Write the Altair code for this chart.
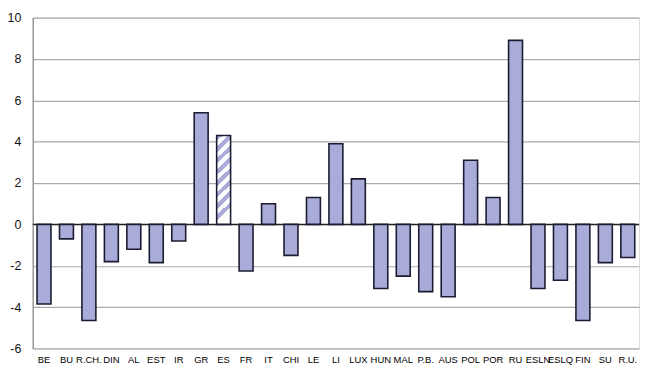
import altair as alt
import pandas as pd

categories = ["BE", "BU", "R.CH.", "DIN", "AL", "EST", "IR", "GR", "ES", "FR", "IT", "CHI", "LE", "LI",
              "LUX", "HUN", "MAL", "P.B.", "AUS", "POL", "POR", "RU", "ESLN", "ESLQ", "FIN", "SU", "R.U."]
values = [-3.85, -0.7, -4.65, -1.8, -1.2, -1.85, -0.8, 5.4, 4.3, -2.25, 1.0, -1.5, 1.3, 3.9,
          2.2, -3.1, -2.5, -3.25, -3.5, 3.1, 1.3, 8.9, -3.1, -2.7, -4.65, -1.85, -1.6]
highlight = "ES"
y_ticks = [-6, -4, -2, 0, 2, 4, 6, 8, 10]

df = pd.DataFrame({"cat": categories, "val": values})

FILL = "#a9abd8"
STROKE = "#1c1c30"

# diagonal stripe gradient for the highlighted bar
n_stripes = 8
stops = []
for i in range(n_stripes):
    a = i / n_stripes
    b = (i + 0.5) / n_stripes
    c = (i + 1) / n_stripes
    stops += [
        alt.GradientStop(color=FILL, offset=a),
        alt.GradientStop(color=FILL, offset=b),
        alt.GradientStop(color="#ffffff", offset=b),
        alt.GradientStop(color="#ffffff", offset=c),
    ]
stripes = alt.LinearGradient(gradient="linear", stops=stops, x1=0, y1=0, x2=0.15, y2=1)

x = alt.X("cat:N", sort=categories, title=None,
          scale=alt.Scale(paddingInner=0.38, paddingOuter=0.19),
          axis=alt.Axis(labelAngle=0, ticks=False, domain=False, labelPadding=6,
                        labelFontSize=9.5, labelFont="Liberation Sans",
                        labelColor="#000", labelFontWeight="normal"))
y = alt.Y("val:Q", title=None,
          scale=alt.Scale(domain=[-6, 10], nice=False),
          axis=alt.Axis(values=y_ticks, ticks=False, domainColor="#999", domainWidth=1.5,
                        gridColor="#aaa", gridWidth=1.2, labelPadding=12,
                        labelExpr="replace(datum.label, '\u2212', '-')",
                        labelFontSize=12.5, labelFont="Liberation Sans", labelColor="#111"))

base = alt.Chart(df)

bars = base.transform_filter(alt.datum.cat != highlight).mark_bar(
    fill=FILL, stroke=STROKE, strokeWidth=1.6
).encode(x=x, y=y)

hbar = base.transform_filter(alt.datum.cat == highlight).mark_bar(
    fill=stripes, stroke=STROKE, strokeWidth=1.6
).encode(x=x, y=y)

zero = alt.Chart(pd.DataFrame({"z": [0]})).mark_rule(color="#222", strokeWidth=1.4).encode(y="z:Q")

chart = alt.layer(zero, bars, hbar).properties(
    width=612, height=334,
    autosize=alt.AutoSizeParams(type="none"),
    padding={"left": 25, "top": 8, "right": 3, "bottom": 16},
).configure_view(stroke="#999", strokeWidth=1.5).configure(background="white")

chart.save("out.html", embed_options={"renderer": "svg", "actions": False})
